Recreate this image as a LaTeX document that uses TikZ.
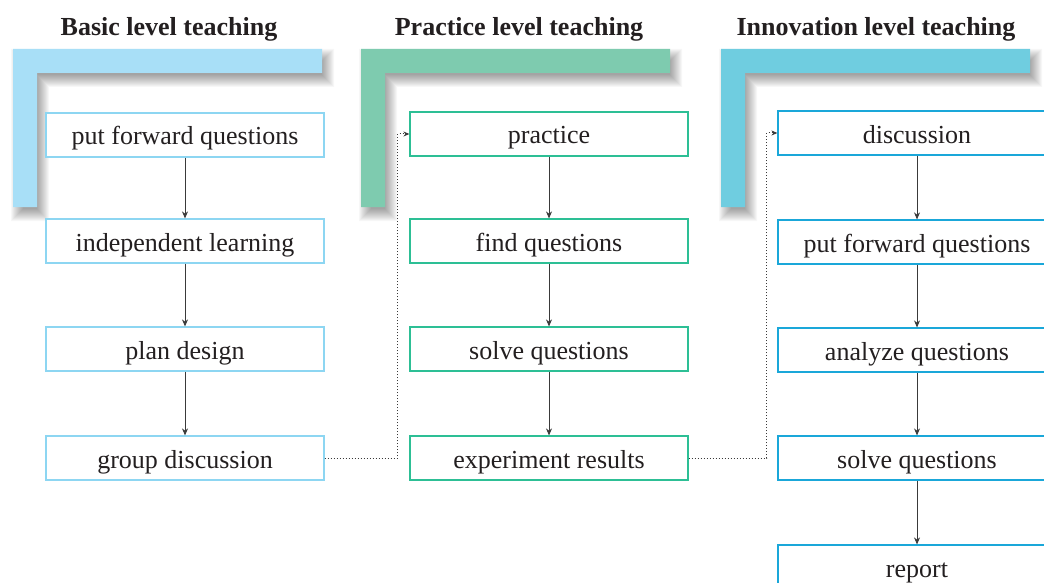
\documentclass[tikz,border=0pt]{standalone}
\usepackage{fontspec}
\setmainfont{Liberation Serif}
\usetikzlibrary{arrows.meta}
\definecolor{txt}{HTML}{231F20}
\definecolor{barA}{HTML}{A8DFF7}
\definecolor{barB}{HTML}{7ECBAF}
\definecolor{barC}{HTML}{6FCDE0}
\definecolor{lineA}{HTML}{8DD6F2}
\definecolor{lineB}{HTML}{2DBF95}
\definecolor{lineC}{HTML}{1AA7D9}
\definecolor{conn}{HTML}{3A3A3A}
\tikzset{
  stepbox/.style={draw, line width=1.2pt, fill=white, minimum width=278pt, minimum height=44pt,
    inner sep=0pt, text height=22pt, text depth=2pt, text=txt, font=\fontsize{26}{30}\selectfont},
  boxA/.style={stepbox, draw=lineA},
  boxB/.style={stepbox, draw=lineB},
  boxC/.style={stepbox, draw=lineC},
  title/.style={text=txt, font=\fontsize{26}{30}\selectfont\bfseries},
  softlayer/.style={fill=black, fill opacity=0.03},
  flow/.style={draw=conn, line width=0.8pt, -{Stealth[length=7pt,width=6pt]}},
  jump/.style={draw=conn, line width=1pt, dotted, -{Stealth[length=6pt,width=5pt]}}
}
% L-shaped heading bar with its top-left corner at (#1,#2), filled with colour #3;
% the shadow is a stack of faint, progressively grown copies of the outline
\newcommand\headbar[3]{%
  \begin{scope}[shift={(#1+5,#2+7)}]
    \foreach \r in {-5,...,7}
      \fill[softlayer] (-\r,-\r) -- (309+\r,-\r) -- (309+\r,24+\r) -- (24+\r,24+\r)
        -- (24+\r,158+\r) -- (-\r,158+\r) -- cycle;
  \end{scope}
  \begin{scope}[shift={(#1,#2)}]
    \fill[#3] (0,0) -- (309,0) -- (309,24) -- (24,24) -- (24,158) -- (0,158) -- cycle;
  \end{scope}}
\begin{document}
\begin{tikzpicture}[x=1pt,y=-1pt]
\useasboundingbox (0,0) rectangle (1044,583);
\fill[white] (0,0) rectangle (1044,583);

% section headings
\node[title] (tA) at (169,29) {Basic level teaching};
\node[title] (tB) at (519,29) {Practice level teaching};
\node[title] (tC) at (876,29) {Innovation level teaching};

% L-shaped brackets with soft shadows
\headbar{13}{49}{barA}
\headbar{361}{49}{barB}
\headbar{721}{49}{barC}

% basic level
\node[boxA] (a1) at (185,135) {put forward questions};
\node[boxA] (a2) at (185,241) {independent learning};
\node[boxA] (a3) at (185,349) {plan design};
\node[boxA] (a4) at (185,458) {group discussion};

% practice level
\node[boxB] (b1) at (549,134) {practice};
\node[boxB] (b2) at (549,241) {find questions};
\node[boxB] (b3) at (549,349) {solve questions};
\node[boxB] (b4) at (549,458) {experiment results};

% innovation level
\node[boxC] (c1) at (917,133) {discussion};
\node[boxC] (c2) at (917,242) {put forward questions};
\node[boxC] (c3) at (917,350) {analyze questions};
\node[boxC] (c4) at (917,458) {solve questions};
\node[boxC] (c5) at (917,567) {report};

% flow within each level
\draw[flow] (a1) -- (a2);
\draw[flow] (a2) -- (a3);
\draw[flow] (a3) -- (a4);
\draw[flow] (b1) -- (b2);
\draw[flow] (b2) -- (b3);
\draw[flow] (b3) -- (b4);
\draw[flow] (c1) -- (c2);
\draw[flow] (c2) -- (c3);
\draw[flow] (c3) -- (c4);
\draw[flow] (c4) -- (c5);

% links between levels
\draw[jump] (a4.east) -- ++(73,0) |- (b1.west);
\draw[jump] (b4.east) -- ++(78,0) |- (c1.west);
\end{tikzpicture}
\end{document}
